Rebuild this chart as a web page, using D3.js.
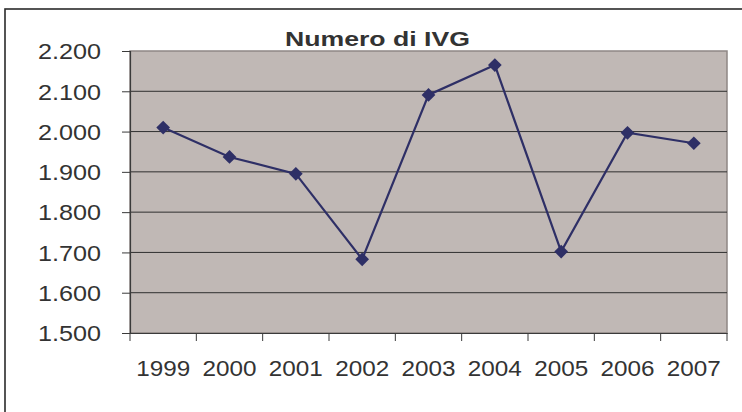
<!DOCTYPE html>
<html><head><meta charset="utf-8">
<script src="https://cdn.jsdelivr.net/npm/d3@7/dist/d3.min.js"></script>
<style>html,body{margin:0;padding:0;background:#fff;}svg{display:block;}</style>
</head><body>
<svg id="c" width="742" height="412"></svg>
<script>
const years = ["1999","2000","2001","2002","2003","2004","2005","2006","2007"];
const values = [2010, 1937, 1895, 1683, 2091, 2165, 1702, 1997, 1971];
const yTicks = [1500, 1600, 1700, 1800, 1900, 2000, 2100, 2200];
const title = "Numero di IVG";

const svg = d3.select("#c");
const font = "'Liberation Sans', Arial, sans-serif";
const textColor = "#333";
const L = 130, R = 727, T = 51, B = 333;

// outer chart border
svg.append("rect").attr("x", 5).attr("y", 9).attr("width", 760).attr("height", 420)
  .attr("fill", "#fff").attr("stroke", "#2b2b2b").attr("stroke-width", 1.6);

const x = d3.scaleBand().domain(years).range([L, R]).padding(0);
const y = d3.scaleLinear().domain([1500, 2200]).range([B, T]);

// plot area
svg.append("rect").attr("x", L).attr("y", T).attr("width", R - L).attr("height", B - T)
  .attr("fill", "#c0b8b5").attr("stroke", "#8f8785").attr("stroke-width", 1.5);

// gridlines
svg.append("g").selectAll("line").data(yTicks.filter(d => d > 1500 && d < 2200)).join("line")
  .attr("x1", L).attr("x2", R).attr("y1", d => y(d)).attr("y2", d => y(d))
  .attr("stroke", "#2f2f2f").attr("stroke-width", 1);

// y axis
const fmt = d => d3.format(",")(d).replace(",", ".");
const yAxis = svg.append("g").attr("transform", `translate(${L},0)`)
  .call(d3.axisLeft(y).tickValues(yTicks).tickSize(8).tickFormat(fmt).tickPadding(21));
yAxis.select(".domain").attr("stroke", "#3a3a3a").attr("stroke-width", 1.2);
yAxis.selectAll(".tick line").attr("stroke", "#3a3a3a");
yAxis.selectAll(".tick text").attr("font-family", font).attr("font-size", 21.5)
  .attr("fill", textColor).attr("dy", "0.36em")
  .attr("textLength", 63).attr("lengthAdjust", "spacingAndGlyphs");

// x axis
const xAxis = svg.append("g").attr("transform", `translate(0,${B})`)
  .call(d3.axisBottom(x).tickSize(0).tickFormat(d => d));
xAxis.select(".domain").attr("stroke", "#3a3a3a").attr("stroke-width", 1.2);
xAxis.selectAll(".tick text").attr("font-family", font).attr("font-size", 22)
  .attr("fill", textColor).attr("y", 43).attr("dy", 0)
  .attr("textLength", 54).attr("lengthAdjust", "spacingAndGlyphs");
// boundary tick marks
const bounds = years.map(d => x(d)).concat([R]);
svg.append("g").selectAll("line").data(bounds).join("line")
  .attr("x1", d => d).attr("x2", d => d).attr("y1", B).attr("y2", B + 8)
  .attr("stroke", "#3a3a3a").attr("stroke-width", 1);

// line
const cx = d => x(d) + x.bandwidth() / 2;
const line = d3.line().x((d, i) => cx(years[i])).y(d => y(d));
svg.append("path").datum(values).attr("d", line)
  .attr("fill", "none").attr("stroke", "#2e2f66").attr("stroke-width", 2.2);

// markers
svg.append("g").selectAll("path").data(values).join("path")
  .attr("transform", (d, i) => `translate(${cx(years[i])},${y(d)})`)
  .attr("d", d3.symbol(d3.symbolDiamond2, 120)())
  .attr("fill", "#2e2f66");

// title
svg.append("text").attr("x", 377.5).attr("y", 46).attr("text-anchor", "middle")
  .attr("font-family", font).attr("font-weight", "bold").attr("font-size", 21)
  .attr("fill", textColor).attr("textLength", 185).attr("lengthAdjust", "spacingAndGlyphs")
  .text(title);
</script>
</body></html>
